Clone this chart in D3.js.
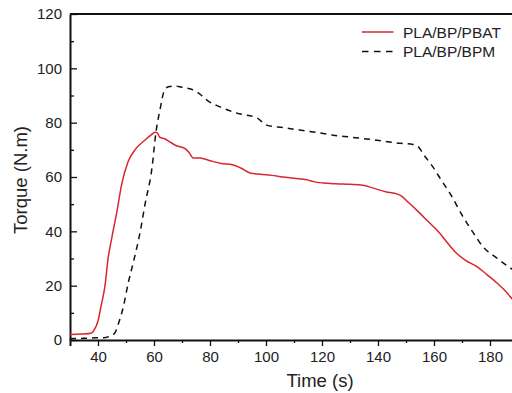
<!DOCTYPE html>
<html>
<head>
<meta charset="utf-8">
<script src="https://cdn.jsdelivr.net/npm/d3@7"></script>
<style>
  html, body { margin: 0; padding: 0; background: #fff; }
  svg { display: block; font-family: "Liberation Sans", Arial, sans-serif; }
</style>
</head>
<body>
<svg id="chart" width="512" height="393"></svg>
<script>
// Torque vs. time for the two blends
const pbatTime   = [30, 34, 37.5, 38.5, 40, 41, 42.5, 43.6, 45, 46.8, 48.4, 50.7, 53.2, 56.8, 59, 60.4, 61.2, 62, 64, 65.7, 68, 71, 72.5, 74, 76.4, 80, 84, 88, 91, 94.3, 98, 102, 106, 110, 114.6, 117, 120.4, 125, 130, 134.6, 138, 143, 146, 148, 151, 155, 158, 162, 165, 168, 171, 175.3, 179, 182.5, 185.5, 188];
const pbatTorque = [2.0, 2.2, 2.5, 3.5, 7, 12, 20, 30, 38, 47.5, 57, 65.5, 70, 73.6, 75.5, 76.5, 76.2, 74.7, 74, 72.9, 71.5, 70.5, 69, 67, 67, 66, 65, 64.5, 63.3, 61.5, 61, 60.6, 60, 59.5, 59, 58.3, 57.8, 57.5, 57.3, 57, 56, 54.5, 54, 53.2, 50.5, 46.6, 43.5, 39.4, 35.5, 32, 29.5, 27, 24, 21, 18, 15];

const bpmTime   = [30, 35, 39, 42, 44, 46, 47.3, 49, 50.8, 52.6, 55, 56.8, 59.3, 60.7, 62.1, 63.9, 65.5, 67.5, 70, 71.8, 75.4, 77, 78.9, 83.6, 89.6, 96.8, 100.2, 106, 112, 118, 124, 130, 136, 142, 147.9, 152.5, 154.5, 156, 159.6, 162.5, 165.7, 170.4, 174, 177.5, 182, 188];
const bpmTorque = [0.5, 0.6, 0.8, 0.8, 1.3, 2.6, 6, 12, 21, 28.5, 39.5, 50, 63.5, 76.5, 84.6, 92.3, 93.3, 93.5, 93, 92.7, 91.3, 90, 88.3, 85.8, 83.5, 81.7, 79.1, 78.2, 77.3, 76.4, 75.4, 74.7, 74, 73.2, 72.4, 72, 71, 68.7, 63.7, 59, 54, 45.3, 39.5, 34.3, 30.5, 26];

const seriesNames = ["PLA/BP/PBAT", "PLA/BP/BPM"];
const xMajorTicks = [40, 60, 80, 100, 120, 140, 160, 180];
const xMinorTicks = [50, 70, 90, 110, 130, 150, 170, 190];
const yMajorTicks = [0, 20, 40, 60, 80, 100, 120];
const yMinorTicks = [10, 30, 50, 70, 90, 110];

const svg = d3.select("#chart");
const plotLeft = 70, plotRight = 518, plotTop = 14, plotBottom = 340;

const x = d3.scaleLinear().domain([30, 190]).range([plotLeft, plotRight]);
const y = d3.scaleLinear().domain([0, 120]).range([plotBottom, plotTop]);

svg.append("defs").append("clipPath").attr("id", "plotClip")
  .append("rect").attr("x", plotLeft).attr("y", plotTop)
  .attr("width", plotRight - plotLeft).attr("height", plotBottom - plotTop);

// x axis: ticks point outward
svg.append("g").attr("transform", `translate(0,${plotBottom})`)
  .call(d3.axisBottom(x).tickValues(xMajorTicks).tickSize(6).tickPadding(5).tickFormat(d3.format("d")));
svg.append("g").attr("transform", `translate(0,${plotBottom})`)
  .call(d3.axisBottom(x).tickValues(xMinorTicks).tickSize(3).tickFormat(""))
  .select(".domain").remove();

// y axis: ticks point inward
const gy = svg.append("g").attr("transform", `translate(${plotLeft},0)`)
  .call(d3.axisLeft(y).tickValues(yMajorTicks).tickSizeInner(-7).tickSizeOuter(0).tickPadding(8).tickFormat(d3.format("d")));
svg.append("g").attr("transform", `translate(${plotLeft},0)`)
  .call(d3.axisLeft(y).tickValues(yMinorTicks).tickSizeInner(-4).tickSizeOuter(0).tickFormat(""))
  .select(".domain").remove();

svg.selectAll(".domain").attr("stroke", "#111").attr("stroke-width", 2);
svg.selectAll(".tick line").attr("stroke", "#111").attr("stroke-width", 1.3);
svg.selectAll(".tick text").attr("font-size", 15).attr("fill", "#222")
  .attr("font-family", "'Liberation Sans', Arial, sans-serif");
gy.selectAll(".tick text").attr("x", -8);

// top frame line
svg.append("line").attr("x1", plotLeft).attr("x2", plotRight).attr("y1", plotTop).attr("y2", plotTop)
  .attr("stroke", "#111").attr("stroke-width", 2);

// curves
const line = d3.line().x(d => x(d[0])).y(d => y(d[1])).curve(d3.curveMonotoneX);
const plot = svg.append("g").attr("clip-path", "url(#plotClip)");

plot.append("path").datum(bpmTime.map((t, i) => [t, bpmTorque[i]]))
  .attr("d", line).attr("fill", "none").attr("stroke", "#111")
  .attr("stroke-width", 1.5).attr("stroke-dasharray", "6,5");

plot.append("path").datum(pbatTime.map((t, i) => [t, pbatTorque[i]]))
  .attr("d", line).attr("fill", "none").attr("stroke", "#d9262c")
  .attr("stroke-width", 1.5);

// legend
const legend = svg.append("g");
const legendStyles = [
  { stroke: "#d9262c", dash: null },
  { stroke: "#111", dash: "6.5,5.5" }
];
seriesNames.forEach((name, i) => {
  const ly = 32 + i * 19.5;
  legend.append("line").attr("x1", 362).attr("x2", 393.5).attr("y1", ly).attr("y2", ly)
    .attr("stroke", legendStyles[i].stroke).attr("stroke-width", 1.5)
    .attr("stroke-dasharray", legendStyles[i].dash);
  legend.append("text").attr("x", 403).attr("y", ly).attr("dy", "0.36em")
    .attr("font-size", 15.5).attr("fill", "#222").text(name);
});

// axis titles
svg.append("text").attr("x", 320).attr("y", 387)
  .attr("text-anchor", "middle").attr("font-size", 18.5).attr("fill", "#222").text("Time (s)");
svg.append("text").attr("transform", "translate(27,180) rotate(-90)")
  .attr("text-anchor", "middle").attr("font-size", 18.5).attr("fill", "#222").text("Torque (N.m)");
</script>
</body>
</html>
